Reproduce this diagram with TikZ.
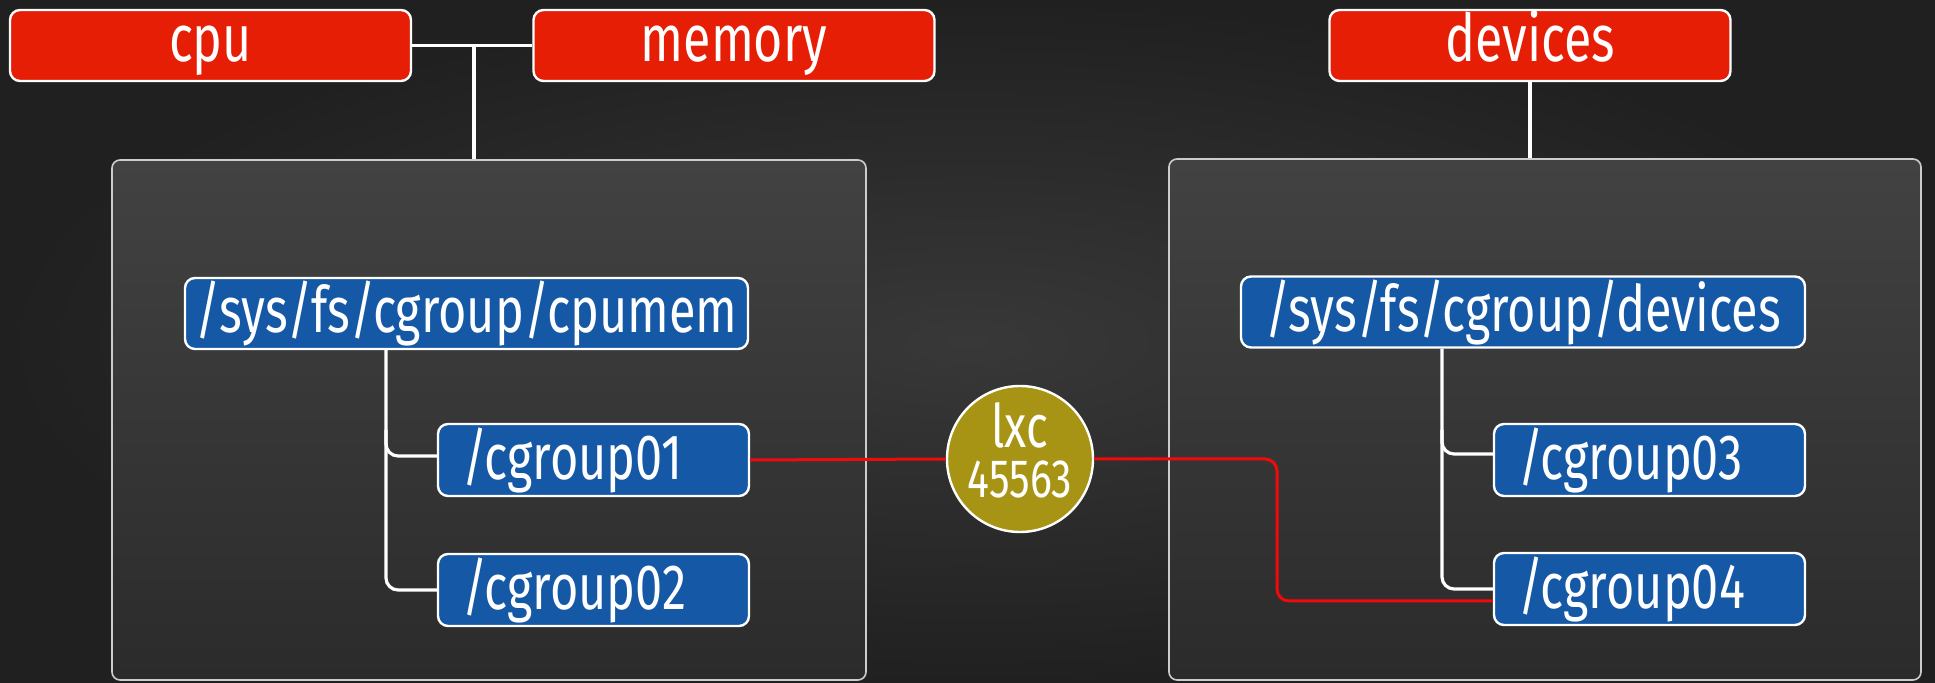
\documentclass[tikz,border=0pt]{standalone}
\usepackage{fontspec}
\setmainfont[FakeStretch=0.76]{Fira Sans}
\usetikzlibrary{calc}
\definecolor{bgin}{HTML}{383838}
\definecolor{bgout}{HTML}{202020}
\definecolor{paneltop}{HTML}{424242}
\definecolor{panelbot}{HTML}{2B2B2B}
\definecolor{resred}{HTML}{E61E06}
\definecolor{cgblue}{HTML}{1558A6}
\definecolor{lxcolive}{HTML}{A89414}
\definecolor{linkred}{HTML}{F00A0A}
\tikzset{
  resbox/.style={draw=white, line width=1.2pt, fill=resred, rounded corners=5pt,
    minimum width=200.5pt, minimum height=35.5pt, inner sep=0pt, text=white,
    text height=23pt, text depth=7pt,
    font=\fontsize{33}{35}\selectfont},
  pathbox/.style={draw=white, line width=1.2pt, fill=cgblue, rounded corners=5pt,
    minimum height=35.5pt, inner sep=0pt, text=white,
    font=\fontsize{32}{34}\selectfont},
  groupbox/.style={draw=white, line width=1.2pt, fill=cgblue, rounded corners=5pt,
    text width=131.5pt, inner xsep=12pt, minimum height=36pt, inner ysep=0pt,
    align=left, text=white, font=\fontsize{32}{34}\selectfont},
  panel/.style={draw=white!80!black, line width=0.8pt, rounded corners=4pt,
    top color=paneltop, bottom color=panelbot},
  tree/.style={draw=white, line width=1.6pt, rounded corners=6pt},
  link/.style={draw=linkred, line width=1.5pt, rounded corners=6pt},
  lxcnode/.style={circle, draw=white, line width=1.2pt, fill=lxcolive,
    minimum size=73pt, inner sep=-4pt, align=center, text=white,
    font=\fontsize{30}{25}\selectfont}
}
\begin{document}
\begin{tikzpicture}[x=0.5pt, y=-0.5pt]
  \useasboundingbox (0,0) rectangle (1935,683);
  % backdrop
  \shade[inner color=bgin, outer color=bgout] (0,0) rectangle (1935,683);

  % container panels
  \node[panel, minimum width=377pt, minimum height=260pt] (lp) at (489,420) {};
  \node[panel, minimum width=376pt, minimum height=260.5pt] (rp) at (1545,419.5) {};

  % resource controllers
  \node[resbox] (cpu) at (210.5,45.5) {cpu};
  \node[resbox] (mem) at (734,45.5) {memory};
  \node[resbox] (dev) at (1530,45.5) {devices};

  \coordinate (j) at (474,46);
  \draw[tree] (cpu.east) -- (mem.west);
  \draw[tree] (j) -- (j |- lp.north);
  \draw[tree] (dev.south) -- (dev.south |- rp.north);

  % hierarchies
  \node[pathbox, minimum width=281.5pt] (cpumem) at (466.5,313.5) {/sys/fs/cgroup/cpumem};
  \node[groupbox] (cg01) at (593.5,460) {/cgroup01};
  \node[groupbox] (cg02) at (593.5,590) {/cgroup02};

  \node[pathbox, minimum width=282pt] (devpath) at (1523,312) {/sys/fs/cgroup/devices};
  \node[groupbox] (cg03) at (1649.5,460) {/cgroup03};
  \node[groupbox] (cg04) at (1649.5,589) {/cgroup04};

  \coordinate (lt) at (386,0);
  \coordinate (rt) at (1442,0);
  \draw[tree] (lt |- cpumem.south) |- (cg02.west);
  \draw[tree] ($(lt |- cg01.west)+(0,-30)$) |- ($(cg01.west)+(0,-4)$);
  \draw[tree] (rt |- devpath.south) |- (cg04.west);
  \draw[tree] ($(rt |- cg03.west)+(0,-30)$) |- ($(cg03.west)+(0,-6)$);

  % container process
  \node[lxcnode] (lxc) at (1020,459)
    {lxc\\{\fontsize{27}{25}\selectfont 45563}\rule[-9pt]{0pt}{9pt}};
  \coordinate (rx) at (1277,0);
  \draw[link] (cg01.east) -- (lxc.west);
  \draw[link] (lxc.east) -| ($(rx |- cg04.west)+(0,12)$) -- ($(cg04.west)+(0,12)$);
\end{tikzpicture}
\end{document}
